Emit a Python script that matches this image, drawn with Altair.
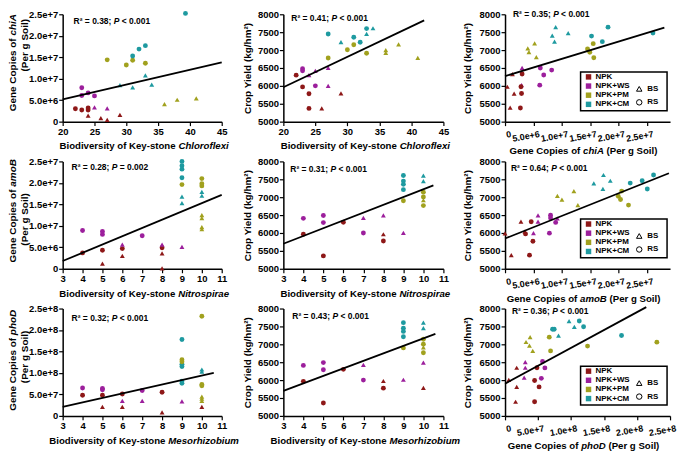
import altair as alt
import pandas as pd

FONT = "Liberation Sans"
TREATMENTS = ["NPK", "NPK+WS", "NPK+PM", "NPK+CM"]
TREAT_COLORS = ["#8e1818", "#9c1f9c", "#a1a11e", "#1e9aa0"]
SOILS = ["BS", "RS"]
SOIL_SHAPES = ["triangle-up", "circle"]

CHLORO_TICKS = [20, 25, 30, 35, 40, 45]
KEY_TICKS = [3, 4, 5, 6, 7, 8, 9, 10, 11]
GENE7_TICKS = [0, 5e6, 1e7, 1.5e7, 2e7, 2.5e7]
GENE8_TICKS = [0, 5e7, 1e8, 1.5e8, 2e8, 2.5e8]
YIELD_TICKS = [5000, 5500, 6000, 6500, 7000, 7500, 8000]

# (treatment, soil, x, y)
P1_POINTS = [
    ("NPK", "RS", 22, 3.0e6), ("NPK", "RS", 23, 2.7e6), ("NPK", "RS", 24, 3.2e6), ("NPK", "RS", 24, 2.7e6),
    ("NPK+WS", "RS", 23, 7.9e6), ("NPK+WS", "RS", 23, 6.1e6), ("NPK+WS", "RS", 24, 6.7e6), ("NPK+WS", "RS", 25, 6.0e6),
    ("NPK+PM", "RS", 27, 14.4e6), ("NPK+PM", "RS", 30, 13.2e6), ("NPK+PM", "RS", 31, 14.3e6), ("NPK+PM", "RS", 33, 13.6e6),
    ("NPK+CM", "RS", 39.3, 25.2e6), ("NPK+CM", "RS", 31, 15.3e6), ("NPK+CM", "RS", 32, 16.9e6), ("NPK+CM", "RS", 33, 17.7e6),
    ("NPK", "BS", 24, 1.4e6), ("NPK", "BS", 26, 0.8e6), ("NPK", "BS", 27, 0.4e6), ("NPK", "BS", 29, 1.6e6),
    ("NPK+WS", "BS", 25, 3.3e6), ("NPK+WS", "BS", 27, 3.1e6),
    ("NPK+PM", "BS", 36, 4.1e6), ("NPK+PM", "BS", 38, 5.1e6), ("NPK+PM", "BS", 41, 5.4e6),
    ("NPK+CM", "BS", 29, 8.5e6), ("NPK+CM", "BS", 31, 8.0e6), ("NPK+CM", "BS", 33, 10.8e6), ("NPK+CM", "BS", 34, 8.6e6),
]
P2_POINTS = [
    ("NPK", "RS", 22, 6300), ("NPK", "RS", 23, 5970), ("NPK", "RS", 24, 5780), ("NPK", "RS", 24, 5370),
    ("NPK+WS", "RS", 23, 6480), ("NPK+WS", "RS", 23, 6420), ("NPK+WS", "RS", 25, 6000),
    ("NPK+PM", "RS", 27, 6780), ("NPK+PM", "RS", 30, 7010), ("NPK+PM", "RS", 31, 7150), ("NPK+PM", "RS", 33, 6910),
    ("NPK+CM", "RS", 27, 7450), ("NPK+CM", "RS", 31, 7360), ("NPK+CM", "RS", 32, 7220), ("NPK+CM", "RS", 33, 7600),
    ("NPK", "BS", 26, 5370), ("NPK", "BS", 29, 5790),
    ("NPK+WS", "BS", 24, 6300), ("NPK+WS", "BS", 25, 6420), ("NPK+WS", "BS", 27, 6500), ("NPK+WS", "BS", 27, 6000),
    ("NPK+PM", "BS", 36, 7000), ("NPK+PM", "BS", 36, 6920), ("NPK+PM", "BS", 38, 7160), ("NPK+PM", "BS", 41, 6780),
    ("NPK+CM", "BS", 29, 7220), ("NPK+CM", "BS", 33, 7450), ("NPK+CM", "BS", 34, 7610),
]
P3_POINTS = [
    ("NPK", "BS", 0.4e6, 5975), ("NPK", "BS", 0.9e6, 5390), ("NPK", "BS", 1.6e6, 5785), ("NPK", "BS", 1.3e6, 6330),
    ("NPK+WS", "BS", 3.0e6, 6500), ("NPK+WS", "BS", 2.9e6, 6020),
    ("NPK+PM", "BS", 4.0e6, 7045), ("NPK+PM", "BS", 4.2e6, 6940), ("NPK+PM", "BS", 5.2e6, 7190), ("NPK+PM", "BS", 5.5e6, 6800),
    ("NPK+CM", "BS", 8.3e6, 7405), ("NPK+CM", "BS", 8.9e6, 7640), ("NPK+CM", "BS", 8.7e6, 7235), ("NPK+CM", "BS", 11.1e6, 7475),
    ("NPK", "RS", 2.8e6, 5975), ("NPK", "RS", 3.0e6, 6330), ("NPK", "RS", 2.9e6, 5785), ("NPK", "RS", 2.7e6, 5380),
    ("NPK+WS", "RS", 6.2e6, 6500), ("NPK+WS", "RS", 6.8e6, 6305), ("NPK+WS", "RS", 8.2e6, 6440), ("NPK+WS", "RS", 6.1e6, 6020),
    ("NPK+PM", "RS", 14.5e6, 7030), ("NPK+PM", "RS", 14.9e6, 6940), ("NPK+PM", "RS", 15.5e6, 7180), ("NPK+PM", "RS", 15.6e6, 6785),
    ("NPK+CM", "RS", 15.2e6, 7390), ("NPK+CM", "RS", 17.1e6, 7235), ("NPK+CM", "RS", 18.1e6, 7640), ("NPK+CM", "RS", 26.0e6, 7475),
]
P4_POINTS = [
    ("NPK+WS", "RS", 4, 8.9e6), ("NPK+WS", "RS", 5, 8.7e6), ("NPK+WS", "RS", 5, 8.0e6), ("NPK+WS", "RS", 7, 7.7e6),
    ("NPK", "RS", 4, 3.7e6), ("NPK", "RS", 5, 4.3e6), ("NPK", "RS", 6, 4.7e6), ("NPK", "RS", 8, 4.9e6),
    ("NPK+CM", "RS", 9, 25.0e6), ("NPK+CM", "RS", 9, 24.0e6), ("NPK+CM", "RS", 9, 23.2e6), ("NPK+CM", "RS", 9, 21.2e6),
    ("NPK+PM", "RS", 9, 19.6e6), ("NPK+PM", "RS", 10, 21.0e6), ("NPK+PM", "RS", 10, 19.8e6), ("NPK+PM", "RS", 10, 19.3e6),
    ("NPK", "BS", 5, 1.2e6), ("NPK", "BS", 6, 3.0e6), ("NPK", "BS", 8, 3.6e6), ("NPK", "BS", 8, 0.1e6),
    ("NPK+WS", "BS", 6, 5.6e6), ("NPK+WS", "BS", 8, 5.6e6), ("NPK+WS", "BS", 9, 5.1e6),
    ("NPK+CM", "BS", 9, 16.8e6), ("NPK+CM", "BS", 9, 15.3e6), ("NPK+CM", "BS", 10, 17.9e6), ("NPK+CM", "BS", 10, 17.0e6),
    ("NPK+PM", "BS", 10, 12.5e6), ("NPK+PM", "BS", 10, 11.8e6), ("NPK+PM", "BS", 10, 9.7e6), ("NPK+PM", "BS", 10, 9.2e6),
]
P5_POINTS = [
    ("NPK+WS", "RS", 4, 6410), ("NPK+WS", "RS", 5, 6490), ("NPK+WS", "RS", 5, 6290), ("NPK+WS", "RS", 7, 6000),
    ("NPK", "RS", 4, 5965), ("NPK", "RS", 5, 5360), ("NPK", "RS", 6, 6300), ("NPK", "RS", 8, 5775),
    ("NPK+CM", "RS", 9, 7605), ("NPK+CM", "RS", 9, 7450), ("NPK+CM", "RS", 9, 7360), ("NPK+CM", "RS", 9, 7210),
    ("NPK+PM", "RS", 9, 6900), ("NPK+PM", "RS", 10, 7140), ("NPK+PM", "RS", 10, 7005), ("NPK+PM", "RS", 10, 6765),
    ("NPK+WS", "BS", 7, 6425), ("NPK+WS", "BS", 8, 6490), ("NPK+WS", "BS", 9, 6000),
    ("NPK", "BS", 8, 5965),
    ("NPK+CM", "BS", 10, 7605), ("NPK+CM", "BS", 10, 7450), ("NPK+PM", "BS", 10, 6915),
]
P6_POINTS = [
    ("NPK", "BS", 0.0, 5990), ("NPK", "BS", 1.1e6, 5380), ("NPK", "BS", 2.8e6, 6315), ("NPK", "BS", 3.5e6, 6040),
    ("NPK+WS", "BS", 5.8e6, 6495), ("NPK+WS", "BS", 5.8e6, 6315), ("NPK+WS", "BS", 5.0e6, 5995), ("NPK+WS", "BS", 9.2e6, 6405),
    ("NPK+PM", "BS", 9.2e6, 7035), ("NPK+PM", "BS", 10.0e6, 6935), ("NPK+PM", "BS", 12.1e6, 7170), ("NPK+PM", "BS", 12.8e6, 6780),
    ("NPK+CM", "BS", 15.6e6, 7385), ("NPK+CM", "BS", 17.3e6, 7620), ("NPK+CM", "BS", 17.2e6, 7230), ("NPK+CM", "BS", 18.5e6, 7460),
    ("NPK", "RS", 3.6e6, 5975), ("NPK", "RS", 4.6e6, 6315), ("NPK", "RS", 4.9e6, 5770), ("NPK", "RS", 4.3e6, 5380),
    ("NPK+WS", "RS", 8.0e6, 6495), ("NPK+WS", "RS", 8.0e6, 6420), ("NPK+WS", "RS", 8.9e6, 6295), ("NPK+WS", "RS", 7.8e6, 5995),
    ("NPK+PM", "RS", 19.9e6, 7025), ("NPK+PM", "RS", 20.5e6, 7170), ("NPK+PM", "RS", 20.3e6, 6935), ("NPK+PM", "RS", 21.7e6, 6780),
    ("NPK+CM", "RS", 22.0e6, 7395), ("NPK+CM", "RS", 24.1e6, 7460), ("NPK+CM", "RS", 25.0e6, 7230), ("NPK+CM", "RS", 26.1e6, 7620),
]
P7_POINTS = [
    ("NPK+WS", "RS", 4, 65e6), ("NPK+WS", "RS", 5, 64e6), ("NPK+WS", "RS", 5, 61e6), ("NPK+WS", "RS", 7, 59e6),
    ("NPK", "RS", 4, 48e6), ("NPK", "RS", 5, 48e6), ("NPK", "RS", 6, 51e6), ("NPK", "RS", 8, 55e6),
    ("NPK+CM", "RS", 9, 178e6), ("NPK+CM", "RS", 9, 120e6), ("NPK+CM", "RS", 9, 115e6), ("NPK+CM", "RS", 9, 81e6), ("NPK+CM", "RS", 9, 76e6),
    ("NPK+PM", "RS", 9, 131e6), ("NPK+PM", "RS", 9, 126e6), ("NPK+PM", "RS", 10, 232e6), ("NPK+PM", "RS", 10, 73e6), ("NPK+PM", "RS", 10, 70e6),
    ("NPK", "BS", 5, 21e6), ("NPK", "BS", 6, 21e6), ("NPK", "BS", 8, 8e6), ("NPK", "BS", 10, 21e6),
    ("NPK+WS", "BS", 6, 35e6), ("NPK+WS", "BS", 7, 35e6), ("NPK+WS", "BS", 9, 34e6),
    ("NPK+CM", "BS", 10, 108e6), ("NPK+CM", "BS", 10, 103e6),
    ("NPK+PM", "BS", 10, 45e6), ("NPK+PM", "BS", 10, 40e6), ("NPK+PM", "BS", 10, 35e6),
]
P8_POINTS = [
    ("NPK+WS", "RS", 4, 6410), ("NPK+WS", "RS", 5, 6490), ("NPK+WS", "RS", 5, 6290), ("NPK+WS", "RS", 7, 6000),
    ("NPK", "RS", 4, 5965), ("NPK", "RS", 5, 5360), ("NPK", "RS", 6, 6300), ("NPK", "RS", 8, 5775),
    ("NPK+CM", "RS", 9, 7605), ("NPK+CM", "RS", 9, 7450), ("NPK+CM", "RS", 9, 7360), ("NPK+CM", "RS", 9, 7210),
    ("NPK+PM", "RS", 9, 6900), ("NPK+PM", "RS", 10, 7140), ("NPK+PM", "RS", 10, 7005), ("NPK+PM", "RS", 10, 6765),
    ("NPK+WS", "BS", 7, 6425), ("NPK+WS", "BS", 9, 6010), ("NPK+WS", "BS", 10, 6490),
    ("NPK", "BS", 8, 5975), ("NPK", "BS", 10, 5780),
    ("NPK+CM", "BS", 10, 7605), ("NPK+CM", "BS", 10, 7450), ("NPK+PM", "BS", 10, 6915),
]
P9_POINTS = [
    ("NPK", "BS", 5.7e6, 6005), ("NPK", "BS", 17.7e6, 6345), ("NPK", "BS", 17.7e6, 5810), ("NPK", "BS", 16e6, 5395),
    ("NPK+WS", "BS", 30.7e6, 6500), ("NPK+WS", "BS", 30.7e6, 6345), ("NPK+WS", "BS", 29e6, 6070),
    ("NPK+PM", "BS", 31.8e6, 7065), ("NPK+PM", "BS", 38e6, 7200), ("NPK+PM", "BS", 37e6, 6965), ("NPK+PM", "BS", 42e6, 6815),
    ("NPK+CM", "BS", 81e6, 7245), ("NPK+CM", "BS", 97e6, 7650), ("NPK+CM", "BS", 105e6, 7490),
    ("NPK", "RS", 44.8e6, 5990), ("NPK", "RS", 48.4e6, 6345), ("NPK", "RS", 51.6e6, 5810), ("NPK", "RS", 44.8e6, 5395),
    ("NPK+WS", "RS", 55e6, 6050), ("NPK+WS", "RS", 56.8e6, 6520), ("NPK+WS", "RS", 60.4e6, 6340),
    ("NPK+PM", "RS", 67e6, 7200), ("NPK+PM", "RS", 69e6, 6815), ("NPK+PM", "RS", 125e6, 6950), ("NPK+PM", "RS", 230e6, 7060),
    ("NPK+CM", "RS", 72e6, 7420), ("NPK+CM", "RS", 74.5e6, 7420), ("NPK+CM", "RS", 112.5e6, 7650),
    ("NPK+CM", "RS", 119e6, 7490), ("NPK+CM", "RS", 176.5e6, 7245),
]

# trend-line end points
LINE_X = [[20, 45], [20, 42], [0, 2.8e7], [3, 11], [3, 10.5], [0, 2.88e7], [3, 10.6], [3, 10.6], [0, 2.14e8]]
LINE_Y = [[5.2e6, 13.8e6], [5960, 7830], [6270, 7630], [1.8e6, 17.2e6], [5700, 7330],
          [5845, 7670], [21e6, 100e6], [5700, 7290], [5900, 8040]]

R2_VALUES = ["0.38", "0.41", "0.35", "0.28", "0.31", "0.64", "0.32", "0.43", "0.36"]
P_TEXTS = ["< 0.001", "< 0.001", "< 0.001", "= 0.002", "< 0.001", "< 0.001", "< 0.001", "< 0.001", "< 0.001"]
TAXA = ["Chloroflexi", "Nitrospirae", "Mesorhizobium"]
GENES = ["chiA", "amoB", "phoD"]

# ---------------------------------------------------------------- layout
WIDTHS = [160, 161, 166]
H = 108
SY = H / 111.0
R2_POS = [(11, 7), (8, 4), (8, 0), (9, 6), (7, 8), (6, 7), (9, 10), (9, 8), (7, 3)]
YT_L1 = [50, 51, 53.5]
YT_L2 = [32, 60, 50]

CW = {" ": 278, "(": 333, ")": 333, "+": 584, "-": 333, ".": 278, "/": 278, ";": 333, "<": 584, "=": 584,
      "A": 722, "B": 722, "C": 722, "D": 722, "G": 778, "K": 722, "M": 833, "N": 722, "P": 667, "R": 722,
      "S": 667, "Y": 667, "a": 556, "b": 611, "c": 556, "d": 611, "e": 556, "f": 333, "g": 611, "h": 611,
      "i": 278, "k": 556, "l": 278, "m": 889, "n": 611, "o": 611, "p": 611, "r": 389, "s": 556, "t": 333,
      "u": 611, "v": 556, "x": 556, "y": 556, "z": 500, "\u00b2": 333}


def tw(s, fs):
    return sum(CW.get(c, 556) for c in s) * fs / 1000.0


def txt(s, x, y, fs, italic=False, angle=0):
    mk = dict(align="left", baseline="middle", font=FONT, fontSize=fs, fontWeight="bold", color="black")
    if italic:
        mk["fontStyle"] = "italic"
    if angle:
        mk["angle"] = angle
    return alt.Chart(pd.DataFrame({"t": [s]})).mark_text(**mk).encode(
        x=alt.value(x), y=alt.value(y), text="t:N")


def rich(parts, x0, y0, fs, vertical=False):
    out, pos = [], 0.0
    for s, it in parts:
        core = s.lstrip(" ")
        pos += tw(s[:len(s) - len(core)], fs)
        shown = core.rstrip(" ")
        if shown:
            if vertical:
                out.append(txt(shown, x0, y0 - pos, fs, it, 270))
            else:
                out.append(txt(shown, x0 + pos, y0, fs, it))
        pos += tw(core, fs)
    return out


def rich_centered(parts, cx, cy, fs, vertical=False):
    total = tw("".join(s for s, _ in parts).strip(), fs)
    if vertical:
        return rich(parts, cx, cy + total / 2, fs, True)
    return rich(parts, cx - total / 2, cy, fs)


def axis(values, expr, title=None, rotated=False, tpad=4):
    kw = dict(values=values, labelExpr=expr, grid=False, domainColor="black", domainWidth=1.5,
              ticks=True, tickColor="black", tickWidth=1.2, tickSize=4, labelFont=FONT, labelFontSize=9.5,
              labelFontWeight="bold", labelColor="black", labelPadding=1, labelFlush=False,
              labelOverlap=False, labelBound=False)
    if title:
        kw.update(title=title, titleFont=FONT, titleFontSize=10, titleFontWeight="bold",
                  titleColor="black", titlePadding=tpad)
    else:
        kw["title"] = None
    if rotated:
        kw.update(labelAngle=350, labelAlign="right", labelBaseline="top", labelOffset=5,
                  labelPadding=4, labelFontSize=9)
    return alt.Axis(**kw)


SCI = "datum.value == 0 ? '0' : format(datum.value, '.1e')"
INT = "format(datum.value, 'd')"
YIELD_TITLE = "Crop Yield (kg/hm\u00b2)"


def panel(i, points, xdom, xaxis, ydom, yaxis, width, extra, legend=False):
    df = pd.DataFrame(points, columns=["trt", "soil", "x", "y"])
    xe = alt.X("x:Q", scale=alt.Scale(domain=xdom, nice=False, zero=False), axis=xaxis)
    ye = alt.Y("y:Q", scale=alt.Scale(domain=ydom, nice=False, zero=False), axis=yaxis)
    if legend:
        cl = alt.Legend(orient="none", legendX=80, legendY=59, title=None, symbolType="square",
                        symbolSize=30, symbolStrokeWidth=0, labelFont=FONT, labelFontSize=8,
                        labelFontWeight="bold", labelColor="black", labelOffset=3, rowPadding=1.2,
                        padding=0)
        sl = alt.Legend(orient="none", legendX=131, legendY=71, title=None, symbolSize=30,
                        symbolFillColor="white", symbolStrokeColor="black", symbolStrokeWidth=1,
                        labelFont=FONT, labelFontSize=8, labelFontWeight="bold", labelColor="black",
                        labelOffset=4, rowPadding=3.6, padding=0)
    else:
        cl, sl = None, None
    ce = alt.Color("trt:N", scale=alt.Scale(domain=TREATMENTS, range=TREAT_COLORS), legend=cl)
    se = alt.Shape("soil:N", scale=alt.Scale(domain=SOILS, range=SOIL_SHAPES), legend=sl)
    pts = alt.Chart(df).mark_point(filled=True, opacity=1, size=24).encode(x=xe, y=ye, color=ce, shape=se)
    line = alt.Chart(pd.DataFrame({"x": LINE_X[i], "y": LINE_Y[i]})).mark_line(
        color="black", strokeWidth=1.8).encode(x=xe, y=ye)
    layers = [pts, line]
    if legend:
        layers.append(alt.Chart(pd.DataFrame({"b": [0]})).mark_rect(
            fill="white", stroke="black", strokeWidth=1.5).encode(
            x=alt.value(76), x2=alt.value(163), y=alt.value(58), y2=alt.value(97)))
    rx, ry = R2_POS[i]
    layers += rich([("R\u00b2 = " + R2_VALUES[i] + "; ", False), ("P", True), (" " + P_TEXTS[i], False)],
                   rx, ry * SY, 8.5)
    layers += extra
    return alt.layer(*layers).properties(width=width, height=H)


panels = []
for r in range(3):
    taxon, gene = TAXA[r], GENES[r]
    pts_l = [P1_POINTS, P4_POINTS, P7_POINTS][r]
    pts_m = [P2_POINTS, P5_POINTS, P8_POINTS][r]
    pts_r = [P3_POINTS, P6_POINTS, P9_POINTS][r]
    xdom_l = [20, 45] if r == 0 else [3, 11]
    xt_l = CHLORO_TICKS if r == 0 else KEY_TICKS
    gene_dom = [0, 2.5e8] if r == 2 else [0, 2.5e7]
    gene_ticks = GENE8_TICKS if r == 2 else GENE7_TICKS
    rdom = [0, 2.5e8] if r == 2 else [0, 2.9e7]

    # left column
    w = WIDTHS[0]
    extra = []
    extra += rich_centered([("Biodiversity of Key-stone ", False), (taxon, True)], w / 2 + 2, H + 25, 9.7)
    extra += rich_centered([("Gene Copies of ", False), (gene, True)], -50, YT_L1[r] * SY, 10, True)
    extra += rich_centered([("(Per g Soil)", False)], -38, YT_L2[r] * SY, 10, True)
    panels.append(panel(3 * r, pts_l, xdom_l, axis(xt_l, INT), gene_dom, axis(gene_ticks, SCI), w, extra))

    # middle column
    w = WIDTHS[1]
    extra = rich_centered([("Biodiversity of Key-stone ", False), (taxon, True)], w / 2 + 2, H + 25, 9.7)
    panels.append(panel(3 * r + 1, pts_m, xdom_l, axis(xt_l, INT), [5000, 8000],
                        axis(YIELD_TICKS, INT, YIELD_TITLE, tpad=5), w, extra))

    # right column
    w = WIDTHS[2]
    extra = rich_centered([("Gene Copies of ", False), (gene, True), (" (Per g Soil)", False)],
                          w / 2 - 4, H + 30, 9.7)
    panels.append(panel(3 * r + 2, pts_r, rdom, axis(gene_ticks, SCI, rotated=True), [5000, 8000],
                        axis(YIELD_TICKS, INT, YIELD_TITLE, tpad=7), w, extra, legend=True))

chart = alt.concat(*panels, columns=3, spacing={"row": 40, "column": 62}, bounds="flush", align="each").resolve_scale(
    x="independent", y="independent", color="independent", shape="independent"
).resolve_legend(color="independent", shape="independent").configure_view(stroke=None).properties(
    padding=0, background="white")

chart.save("out.html", embed_options={"renderer": "svg", "actions": False})
